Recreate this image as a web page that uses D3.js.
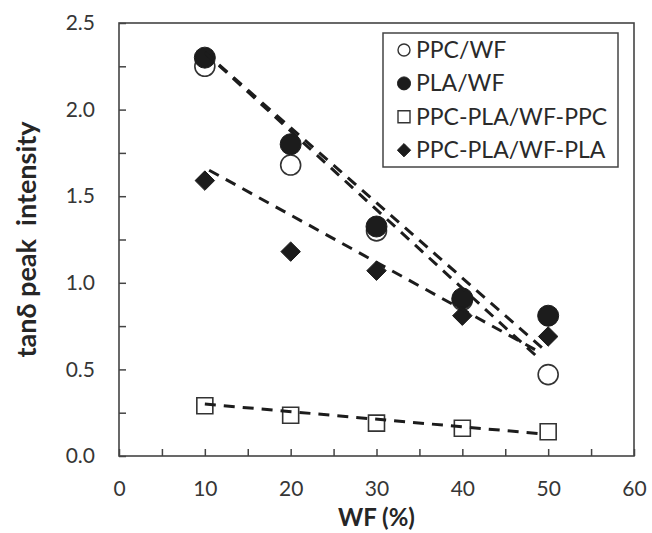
<!DOCTYPE html>
<html>
<head>
<meta charset="utf-8">
<script src="https://cdn.jsdelivr.net/npm/d3@7"></script>
<style>
  html, body { margin: 0; padding: 0; background: #fff; }
  svg { display: block; font-family: "Lato", "Open Sans", sans-serif; }
</style>
</head>
<body>
<svg id="chart" width="652" height="533"></svg>
<script>
// ---- data ----
const wf = [10, 20, 30, 40, 50];
const ppcWF = [2.25, 1.68, 1.30, 0.90, 0.47];
const plaWF = [2.30, 1.80, 1.325, 0.91, 0.81];
const ppcPlaWfPpc = [0.29, 0.235, 0.19, 0.16, 0.14];
const ppcPlaWfPla = [1.59, 1.18, 1.07, 0.81, 0.69];
const seriesNames = ["PPC/WF", "PLA/WF", "PPC-PLA/WF-PPC", "PPC-PLA/WF-PLA"];
// dashed trend lines: [x0, y0, x1, y1]
const trendPpcWF = [10, 2.33, 49, 0.56];
const trendPlaWF = [10, 2.33, 49.4, 0.62];
const trendWfPpc = [10, 0.30, 48.8, 0.13];
const trendWfPla = [10.5, 1.65, 49, 0.60];
const xTickMajor = [0, 10, 20, 30, 40, 50, 60];
const xTickMinor = [0, 5, 10, 15, 20, 25, 30, 35, 40, 45, 50, 55, 60];
const yTickMajor = [0, 0.5, 1.0, 1.5, 2.0, 2.5];
const yTickMinor = [0, 0.25, 0.5, 0.75, 1.0, 1.25, 1.5, 1.75, 2.0, 2.25, 2.5];
const xTitle = "WF (%)";
const yTitle = "tanδ peak  intensity";

// ---- layout ----
const svg = d3.select("#chart");
const L = 119, R = 634, T = 23, B = 456;
const x = d3.scaleLinear().domain([0, 60]).range([L, R]);
const y = d3.scaleLinear().domain([0, 2.5]).range([B, T]);
const ink = "#1c1c1c";
const textCol = "#363636";

// ticks (inside)
const tickLen = 7;
svg.append("g").attr("transform", `translate(0,${B})`)
  .call(d3.axisBottom(x).tickValues(xTickMinor).tickSize(-tickLen).tickFormat(""))
  .call(g => g.select(".domain").remove())
  .call(g => g.selectAll("line").attr("stroke", "#444").attr("stroke-width", 1.5));
svg.append("g").attr("transform", `translate(${L},0)`)
  .call(d3.axisLeft(y).tickValues(yTickMinor).tickSize(-tickLen).tickFormat(""))
  .call(g => g.select(".domain").remove())
  .call(g => g.selectAll("line").attr("stroke", "#444").attr("stroke-width", 1.5));

// tick labels
svg.append("g").attr("transform", `translate(0,${B})`)
  .call(d3.axisBottom(x).tickValues(xTickMajor).tickSize(0).tickPadding(25).tickFormat(d3.format("d")))
  .call(g => g.select(".domain").remove())
  .call(g => g.selectAll("text").attr("font-size", 21).attr("fill", textCol).attr("font-family", "Lato, sans-serif"));
svg.append("g").attr("transform", `translate(${L},0)`)
  .call(d3.axisLeft(y).tickValues(yTickMajor).tickSize(0).tickPadding(24).tickFormat(d3.format(".1f")))
  .call(g => g.select(".domain").remove())
  .call(g => g.selectAll("text").attr("font-size", 21).attr("fill", textCol).attr("font-family", "Lato, sans-serif"));

// frame
svg.append("rect").attr("x", L).attr("y", T).attr("width", R - L).attr("height", B - T)
  .attr("fill", "none").attr("stroke", "#444").attr("stroke-width", 1.6);

// titles
svg.append("text").attr("x", (L + R) / 2).attr("y", 526)
  .attr("text-anchor", "middle").attr("font-size", 24).attr("font-weight", "bold")
  .attr("fill", "#262626").text(xTitle);
svg.append("text").attr("transform", `translate(36,${(T + B) / 2}) rotate(-90)`)
  .attr("text-anchor", "middle").attr("font-size", 27).attr("font-weight", "bold")
  .attr("fill", "#262626").style("white-space", "pre").text(yTitle);

// markers
const symCircle = (r) => d3.symbol().type(d3.symbolCircle).size(Math.PI * r * r);
const symSquare = (s) => d3.symbol().type(d3.symbolSquare).size(s * s);
const symDiamond = (d) => d3.symbol().type(d3.symbolDiamond2).size(d * d / 2);

function drawSeries(vals, path, fill, stroke, sw) {
  svg.append("g").selectAll("path").data(vals).join("path")
    .attr("transform", (v, i) => `translate(${x(wf[i])},${y(v)})`)
    .attr("d", path).attr("fill", fill).attr("stroke", stroke).attr("stroke-width", sw);
}
drawSeries(ppcWF, symCircle(10)(), "#fff", "#333", 1.6);
drawSeries(plaWF, symCircle(10.5)(), ink, ink, 1);
drawSeries(ppcPlaWfPpc, symSquare(16)(), "#fff", "#333", 1.6);
drawSeries(ppcPlaWfPla, symDiamond(22)(), ink, ink, 1);

// trend lines
const line = d3.line().x(d => x(d[0])).y(d => y(d[1]));
[trendPpcWF, trendPlaWF, trendWfPpc, trendWfPla].forEach(t => {
  svg.append("path").datum([[t[0], t[1]], [t[2], t[3]]])
    .attr("d", line).attr("fill", "none").attr("stroke", ink)
    .attr("stroke-width", 3).attr("stroke-dasharray", "11,8");
});

// legend
const lg = svg.append("g");
lg.append("rect").attr("x", 383).attr("y", 33).attr("width", 235).attr("height", 134)
  .attr("fill", "#fff").attr("stroke", "#444").attr("stroke-width", 1.5);
const legSyms = [
  [symCircle(6)(), "#fff", "#333", 1.4],
  [symCircle(6.5)(), ink, ink, 1],
  [symSquare(12)(), "#fff", "#333", 1.4],
  [symDiamond(15)(), ink, ink, 1]
];
seriesNames.forEach((name, i) => {
  const yy = 50 + i * 33.4;
  lg.append("path").attr("transform", `translate(404,${yy})`).attr("d", legSyms[i][0])
    .attr("fill", legSyms[i][1]).attr("stroke", legSyms[i][2]).attr("stroke-width", legSyms[i][3]);
  lg.append("text").attr("x", 416).attr("y", yy).attr("dy", "0.35em")
    .attr("font-size", 23).attr("fill", "#2a2a2a").text(name);
});
</script>
</body>
</html>
